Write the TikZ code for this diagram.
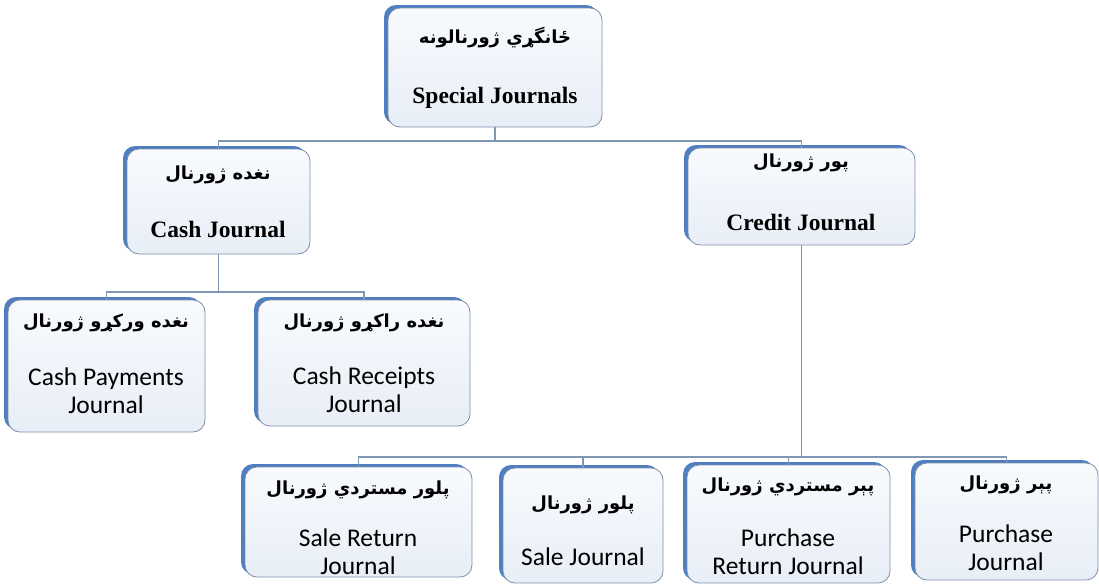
\documentclass[tikz,border=0pt]{standalone}
\usepackage{fontspec}
\setmainfont{Liberation Serif}
\newfontfamily\calfont{Carlito}
\newfontfamily\arabicfont[Script=Arabic]{DejaVu Sans}
\TeXXeTstate=1
\usetikzlibrary{shadows}
\definecolor{boxborder}{HTML}{7D8FA8}
\definecolor{shadowblue}{HTML}{4F7FC0}
\definecolor{filltop}{HTML}{F8FAFD}
\definecolor{fillbot}{HTML}{E8EEF7}
\definecolor{linkcol}{HTML}{8196B3}
\tikzset{
  jbox/.style={draw=boxborder, line width=0.8pt, rounded corners=12pt,
    top color=filltop, bottom color=fillbot,
    general shadow={fill=shadowblue, shadow xshift=-4pt, shadow yshift=3pt, rounded corners=12pt},
    inner sep=0pt},
  artext/.style={font=\arabicfont\bfseries\fontsize{18}{22}\selectfont, inner sep=0pt},
  entitle/.style={font=\fontsize{23.5}{26}\selectfont\bfseries, inner sep=0pt},
  entext/.style={font=\calfont\fontsize{25.5}{28}\selectfont, align=center, inner sep=0pt},
  link/.style={draw=linkcol, line width=1.2pt}
}
\begin{document}
\begin{tikzpicture}[x={(1pt,0)}, y={(0,-1pt)}]
\useasboundingbox (0,0) rectangle (1099,584);
% boxes
\node[jbox, minimum width=214pt, minimum height=119pt] (top) at (495,67.5) {};
\node[jbox, minimum width=183pt, minimum height=105pt] (cash) at (218.5,201.5) {};
\node[jbox, minimum width=227pt, minimum height=97pt] (credit) at (801.5,196.5) {};
\node[jbox, minimum width=197pt, minimum height=132pt] (cpay) at (106.5,366) {};
\node[jbox, minimum width=212pt, minimum height=126pt] (crec) at (364,363) {};
\node[jbox, minimum width=227pt, minimum height=110pt] (sret) at (358.5,522) {};
\node[jbox, minimum width=160pt, minimum height=115pt] (sale) at (583,525.5) {};
\node[jbox, minimum width=203pt, minimum height=118pt] (pret) at (788.5,524) {};
\node[jbox, minimum width=183pt, minimum height=117pt] (pur) at (1006.5,521.5) {};
% texts
\node[artext] (topar) at (495,38) {\beginR ځانگړي ژورنالونه\endR};
\node[entitle] (topen) at (495,98) {Special Journals};
\node[artext] (cashar) at (218,175) {\beginR نغده ژورنال\endR};
\node[entitle] (cashen) at (218,229) {Cash Journal};
\node[artext] (creditar) at (801,163) {\beginR پور ژورنال\endR};
\node[entitle] (crediten) at (801,222) {Credit Journal};
\node[artext] (cpayar) at (106,323) {\beginR نغده ورکړو ژورنال\endR};
\node[entext] (cpayen) at (106,391) {Cash Payments\\Journal};
\node[artext] (crecar) at (364,323) {\beginR نغده راکړو ژورنال\endR};
\node[entext] (crecen) at (364,390) {Cash Receipts\\Journal};
\node[artext] (sretar) at (358,490) {\beginR پلور مستردي ژورنال\endR};
\node[entext] (sreten) at (358,552) {Sale Return\\Journal};
\node[artext] (salear) at (583,505) {\beginR پلور ژورنال\endR};
\node[entext] (saleen) at (583,557) {Sale Journal};
\node[artext] (pretar) at (788,487) {\beginR پېر مستردي ژورنال\endR};
\node[entext] (preten) at (788,552) {Purchase\\Return Journal};
\node[artext] (purar) at (1006,485) {\beginR پېر ژورنال\endR};
\node[entext] (puren) at (1006,548) {Purchase\\Journal};
% connectors
\coordinate (j1) at (495,141);
\coordinate (j2) at (218.5,292);
\coordinate (j3) at (801.5,457);
\draw[link] (top.south) -- (j1);
\draw[link] (cash.north) |- (j1) -| (credit.north);
\draw[link] (cash.south) -- (j2);
\draw[link] (cpay.north) |- (j2) -| (crec.north);
\draw[link] (credit.south) -- (j3);
\draw[link] (sret.north) |- (j3) -| (pur.north);
\draw[link] (sale.north) -- (sale.north |- j3);
\draw[link] (pret.north) -- (pret.north |- j3);
\end{tikzpicture}
\end{document}
